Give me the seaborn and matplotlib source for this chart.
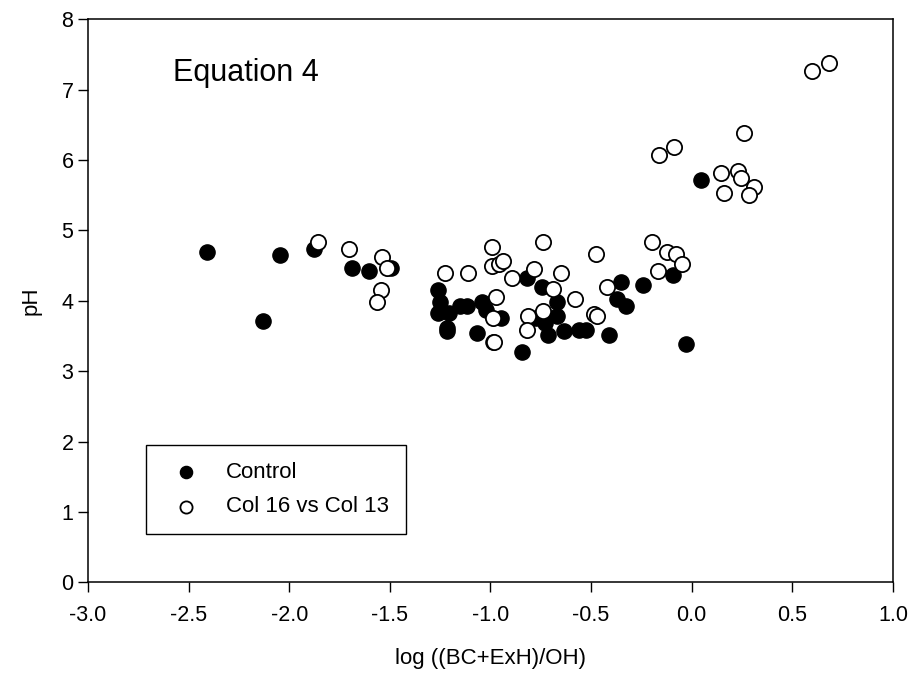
import numpy as np
import pandas as pd
import matplotlib
matplotlib.use("Agg")
import matplotlib.pyplot as plt
import seaborn as sns

# Control (filled circles)
control_x = [-2.408, -2.129, -2.045, -1.876, -1.687, -1.602, -1.493, -1.259, -1.249, -1.259,
             -1.204, -1.214, -1.214, -1.154, -1.119, -1.040, -1.020, -0.950, -1.065, -0.990,
             -0.841, -0.821, -0.746, -0.672, -0.672, -0.731, -0.776, -0.716, -0.637, -0.562,
             -0.527, -0.413, -0.353, -0.373, -0.328, -0.244, -0.095, -0.030, 0.045]
control_y = [4.69, 3.72, 4.65, 4.73, 4.47, 4.42, 4.46, 4.16, 3.98, 3.82,
             3.82, 3.62, 3.57, 3.93, 3.93, 3.98, 3.87, 3.75, 3.54, 3.41,
             3.27, 4.32, 4.19, 3.99, 3.78, 3.69, 3.75, 3.52, 3.57, 3.59,
             3.59, 3.51, 4.27, 4.03, 3.93, 4.23, 4.36, 3.38, 5.72]

# Col 16 vs Col 13 (open circles)
col_x = [-1.856, -1.701, -1.537, -1.512, -1.542, -1.562, -1.224, -1.114, -0.975, -0.990,
         -0.985, -0.995, -0.995, -0.960, -0.940, -0.891, -0.786, -0.741, -0.816, -0.821,
         -0.687, -0.652, -0.582, -0.741, -0.478, -0.488, -0.473, -0.423, -0.199, -0.124,
         -0.080, -0.050, -0.169, 0.259, -0.164, -0.090, 0.144, 0.229, 0.244, 0.308,
         0.159, 0.284, 0.597, 0.682]
col_y = [4.84, 4.74, 4.62, 4.46, 4.15, 3.99, 4.39, 4.39, 4.05, 3.76,
         3.42, 4.76, 4.49, 4.52, 4.56, 4.32, 4.45, 4.83, 3.79, 3.59,
         4.17, 4.40, 4.03, 3.86, 4.66, 3.81, 3.79, 4.20, 4.83, 4.70,
         4.67, 4.53, 4.43, 6.38, 6.07, 6.18, 5.81, 5.85, 5.75, 5.62,
         5.53, 5.50, 7.27, 7.38]

series_labels = ["Control", "Col 16 vs Col 13"]
x_ticks = [-3.0, -2.5, -2.0, -1.5, -1.0, -0.5, 0.0, 0.5, 1.0]
y_ticks = [0, 1, 2, 3, 4, 5, 6, 7, 8]

df_control = pd.DataFrame({"x": control_x, "y": control_y})
df_col = pd.DataFrame({"x": col_x, "y": col_y})

sns.set_style("ticks")
plt.rcParams["font.family"] = ["Liberation Sans", "DejaVu Sans"]
plt.rcParams["text.color"] = "black"
plt.rcParams["axes.labelcolor"] = "black"

fig = plt.figure(figsize=(9.12, 6.77), dpi=100)
ax = fig.add_axes([88 / 912, (677 - 582.3) / 677, (893 - 88) / 912, (582.3 - 19.3) / 677])

sns.scatterplot(data=df_control, x="x", y="y", ax=ax, color="black", edgecolor="black",
                s=120, linewidth=1, label=series_labels[0], zorder=3)
sns.scatterplot(data=df_col, x="x", y="y", ax=ax, color="white", edgecolor="black",
                s=120, linewidth=1.3, label=series_labels[1], zorder=3)

ax.set_xlim(-3.0, 1.0)
ax.set_ylim(0, 8)
ax.set_xticks(x_ticks)
ax.set_xticklabels([f"{v:.1f}" for v in x_ticks])
ax.set_yticks(y_ticks)
ax.set_yticklabels([str(v) for v in y_ticks])
ax.tick_params(axis="both", direction="out", length=7, width=1, labelsize=15.5,
               colors="black", labelcolor="black")
ax.tick_params(axis="x", pad=9)
for sp in ax.spines.values():
    sp.set_visible(True)
    sp.set_linewidth(1.1)
    sp.set_color("black")

ax.set_xlabel("log ((BC+ExH)/OH)", fontsize=16, labelpad=16, color="black")
ax.set_ylabel("pH", fontsize=16, labelpad=14, color="black")

ax.text(0.105, 0.905, "Equation 4", transform=ax.transAxes, fontsize=22,
        ha="left", va="center", color="black")

leg = ax.legend(loc="upper left", bbox_to_anchor=(0.072, 0.244), fontsize=16,
                frameon=True, fancybox=False, edgecolor="black", framealpha=1,
                borderpad=0.75, handletextpad=0.75, labelspacing=0.62,
                borderaxespad=0, markerscale=0.8, handlelength=2.1)
leg.get_frame().set_linewidth(1.0)
for t in leg.get_texts():
    t.set_color("black")

fig.savefig("out.png", dpi=100)
